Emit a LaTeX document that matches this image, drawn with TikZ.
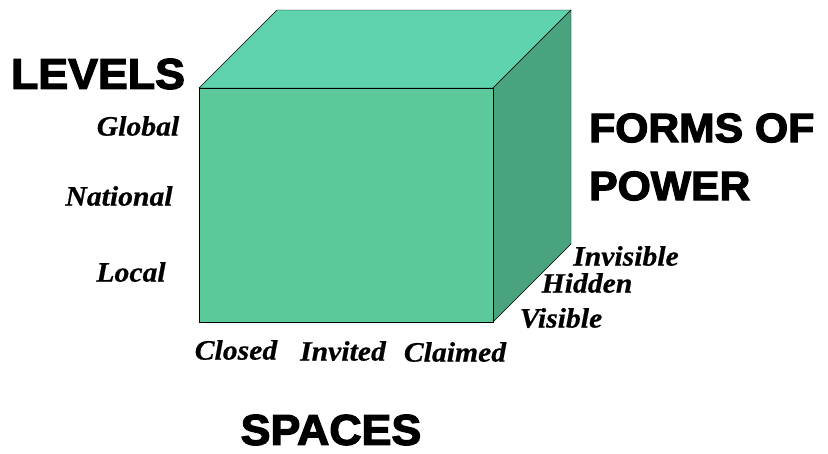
\documentclass[tikz,border=0pt]{standalone}
\usepackage{fontspec}
\setmainfont{Liberation Serif}
\newfontfamily\heavyfont[FakeBold=3,FakeStretch=1.04]{Liberation Sans Bold}
\newfontfamily\labelfont[FakeBold=0.6,FakeStretch=1.06]{Liberation Serif Bold Italic}
\usetikzlibrary{positioning}
\definecolor{frontgreen}{HTML}{5CC99A}
\definecolor{topgreen}{HTML}{5ED3AD}
\definecolor{sidegreen}{HTML}{49A37E}

\begin{document}
\begin{tikzpicture}[x=1pt,y=-1pt,
  axistitle/.style={font=\heavyfont\fontsize{43}{58}\selectfont, inner sep=0pt, align=left},
  ticklabel/.style={font=\labelfont\fontsize{28}{30}\selectfont, inner sep=0pt}]
\useasboundingbox (0,0) rectangle (828,453);

% Cube faces (top, side, front)
\draw[fill=topgreen] (199,88) -- (277,10) -- (571,10) -- (493,88) -- cycle;
\draw[fill=sidegreen] (493,88) -- (571,10) -- (571,244) -- (493,322) -- cycle;
\draw[fill=frontgreen] (199,88) rectangle (493,322);

% Axis titles
\node[axistitle] (levels) at (98,74) {LEVELS};
\node[axistitle, anchor=west, font=\heavyfont\fontsize{41}{58}\selectfont] (power) at (589,157) {FORMS OF\\POWER};
\node[axistitle] (spaces) at (331,430) {SPACES};

% Levels
\node[ticklabel] (global) at (138,126) {Global};
\node[ticklabel] (national) at (119,196) {National};
\node[ticklabel] (local) at (131,272) {Local};

% Forms of power
\node[ticklabel] (invisible) at (626,256) {Invisible};
\node[ticklabel] (hidden) at (587,283) {Hidden};
\node[ticklabel] (visible) at (561,318) {Visible};

% Spaces
\node[ticklabel] (closed) at (236,350) {Closed};
\node[ticklabel] (invited) at (343,351) {Invited};
\node[ticklabel] (claimed) at (455,352) {Claimed};

\end{tikzpicture}
\end{document}
